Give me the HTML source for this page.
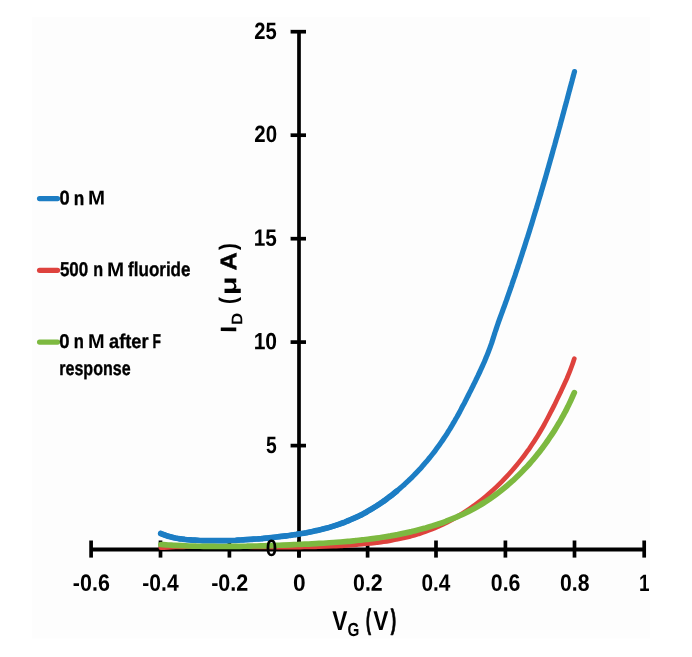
<!DOCTYPE html>
<html><head><meta charset="utf-8"><title>Chart</title>
<style>html,body{margin:0;padding:0;background:#fff}svg{display:block}</style></head>
<body>
<svg width="692" height="657" viewBox="0 0 692 657">
<rect x="0" y="0" width="692" height="657" fill="#ffffff"/>
<rect x="32" y="17" width="618.3" height="621.6" fill="#fdfdfd"/>
<defs><filter id="soft" x="0" y="0" width="692" height="657" filterUnits="userSpaceOnUse"><feGaussianBlur stdDeviation="0.55"/></filter></defs>
<g filter="url(#soft)">
<g stroke="#000" stroke-width="3.7" fill="none" stroke-linecap="butt">
<path stroke-width="4.0" d="M91.2 549.4 H644.2"/>
<path d="M299.0 30.3 V557.5"/>
<path d="M91.1 540.5 V557.6"/>
<path d="M160.5 540.5 V557.6"/>
<path d="M229.4 540.5 V557.6"/>
<path d="M299.0 540.5 V557.6"/>
<path d="M367.6 540.5 V557.6"/>
<path d="M436.0 540.5 V557.6"/>
<path d="M505.4 540.5 V557.6"/>
<path d="M574.5 540.5 V557.6"/>
<path d="M644.2 540.5 V557.6"/>
<path d="M290.6 31.7 H306.0"/>
<path d="M290.6 135.2 H306.0"/>
<path d="M290.6 238.7 H306.0"/>
<path d="M290.6 342.1 H306.0"/>
<path d="M290.6 445.6 H306.0"/>
</g>
<g fill="none" stroke-width="5.0" stroke-linecap="round" stroke-linejoin="round">
<path stroke="#1a7dc4" stroke-width="5.2" d="M160.7 533.5 C161.5 533.8 163.9 534.8 165.5 535.3 C167.1 535.9 168.7 536.4 170.3 536.8 C171.9 537.2 173.6 537.6 175.2 538.0 C176.8 538.3 178.5 538.6 180.1 538.8 C181.7 539.1 183.4 539.3 185.0 539.5 C186.7 539.7 188.3 539.8 190.0 539.9 C191.7 540.1 193.3 540.2 195.0 540.2 C196.7 540.3 198.3 540.4 200.0 540.5 C201.7 540.5 203.4 540.6 205.0 540.6 C206.7 540.6 208.4 540.7 210.1 540.7 C211.8 540.7 213.5 540.7 215.2 540.7 C216.9 540.7 218.6 540.7 220.3 540.7 C222.0 540.7 223.7 540.6 225.4 540.6 C227.1 540.6 228.8 540.5 230.5 540.5 C232.2 540.4 233.9 540.3 235.6 540.3 C237.3 540.2 239.0 540.1 240.7 540.0 C242.4 539.9 244.1 539.8 245.8 539.7 C247.5 539.6 249.2 539.5 250.9 539.4 C252.6 539.3 254.3 539.1 256.0 539.0 C257.8 538.9 259.5 538.7 261.2 538.6 C262.9 538.4 264.6 538.3 266.3 538.1 C268.0 537.9 269.7 537.8 271.4 537.6 C273.1 537.4 274.7 537.2 276.4 537.0 C278.1 536.8 279.8 536.6 281.5 536.4 C283.2 536.2 284.9 536.0 286.5 535.8 C288.2 535.6 289.9 535.3 291.6 535.1 C293.2 534.9 294.9 534.6 296.6 534.4 C298.2 534.1 299.9 533.8 301.6 533.5 C303.2 533.3 304.9 533.0 306.5 532.7 C308.2 532.3 309.8 532.0 311.5 531.7 C313.1 531.4 314.7 531.0 316.3 530.6 C318.0 530.3 319.6 529.9 321.2 529.5 C322.8 529.1 324.4 528.7 326.0 528.2 C327.7 527.8 329.2 527.4 330.8 526.9 C332.4 526.4 334.0 525.9 335.6 525.4 C337.2 524.9 338.7 524.4 340.3 523.8 C341.9 523.3 343.4 522.7 345.0 522.1 C346.5 521.5 348.1 520.9 349.6 520.2 C351.1 519.6 352.7 518.9 354.2 518.2 C355.7 517.5 357.2 516.8 358.7 516.1 C360.2 515.3 361.7 514.5 363.2 513.8 C364.7 513.0 366.2 512.2 367.6 511.3 C369.1 510.5 370.6 509.6 372.0 508.8 C373.4 507.9 374.9 507.0 376.3 506.1 C377.7 505.2 379.2 504.2 380.6 503.3 C382.0 502.3 383.4 501.4 384.8 500.4 C386.1 499.4 387.5 498.4 388.9 497.3 C390.2 496.3 391.6 495.3 392.9 494.2 C394.3 493.1 395.6 492.1 396.9 491.0 C398.3 489.9 399.6 488.7 400.9 487.6 C402.2 486.5 403.4 485.3 404.7 484.2 C406.0 483.0 407.2 481.9 408.5 480.7 C409.7 479.5 411.0 478.3 412.2 477.1 C413.4 475.9 414.6 474.6 415.8 473.4 C417.0 472.2 418.2 470.9 419.3 469.6 C420.5 468.4 421.6 467.1 422.8 465.8 C423.9 464.5 425.0 463.2 426.1 461.9 C427.3 460.6 428.3 459.3 429.4 458.0 C430.5 456.7 431.6 455.3 432.6 454.0 C433.7 452.6 434.7 451.3 435.7 449.9 C436.7 448.6 437.7 447.2 438.7 445.8 C439.7 444.5 440.7 443.1 441.6 441.7 C442.6 440.3 443.5 438.9 444.4 437.5 C445.4 436.1 446.3 434.7 447.2 433.3 C448.1 431.9 448.9 430.5 449.8 429.1 C450.7 427.6 451.5 426.2 452.4 424.8 C453.2 423.3 454.1 421.9 454.9 420.5 C455.7 419.0 456.6 417.6 457.4 416.1 C458.2 414.7 459.0 413.2 459.8 411.7 C460.6 410.3 461.3 408.8 462.1 407.3 C462.9 405.8 463.7 404.4 464.5 402.9 C465.2 401.4 466.0 399.9 466.7 398.4 C467.5 396.9 468.3 395.4 469.0 393.9 C469.8 392.4 470.5 390.9 471.3 389.4 C472.0 387.9 472.8 386.3 473.5 384.8 C474.3 383.3 475.0 381.8 475.8 380.2 C476.5 378.7 477.2 377.2 478.0 375.6 C478.7 374.1 479.4 372.6 480.2 371.0 C480.9 369.5 481.6 367.9 482.3 366.4 C483.0 364.8 483.7 363.3 484.4 361.7 C485.0 360.2 485.7 358.6 486.3 357.0 C487.0 355.5 487.6 353.9 488.2 352.3 C488.8 350.8 489.4 349.2 490.0 347.6 C490.6 346.0 491.1 344.5 491.7 342.9 C492.2 341.3 492.7 339.7 493.2 338.1 C493.7 336.5 494.2 335.0 494.7 333.4 C495.2 331.8 495.8 330.2 496.3 328.6 C496.8 327.0 497.3 325.4 497.9 323.8 C498.5 322.2 499.0 320.6 499.6 319.0 C500.2 317.4 500.8 315.8 501.4 314.2 C502.0 312.6 502.6 311.0 503.1 309.4 C503.7 307.8 504.3 306.2 504.9 304.6 C505.5 303.0 506.0 301.4 506.6 299.8 C507.2 298.1 507.7 296.5 508.3 294.9 C508.9 293.3 509.4 291.7 510.0 290.1 C510.6 288.5 511.1 286.9 511.7 285.3 C512.2 283.6 512.8 282.0 513.3 280.4 C513.9 278.8 514.4 277.2 515.0 275.6 C515.5 274.0 516.0 272.4 516.6 270.7 C517.1 269.1 517.7 267.5 518.2 265.9 C518.7 264.3 519.3 262.7 519.8 261.1 C520.3 259.5 520.8 257.9 521.4 256.2 C521.9 254.6 522.4 253.0 522.9 251.4 C523.5 249.8 524.0 248.2 524.5 246.6 C525.0 245.0 525.5 243.4 526.0 241.8 C526.5 240.2 527.0 238.6 527.6 236.9 C528.1 235.3 528.6 233.7 529.1 232.1 C529.6 230.5 530.1 228.9 530.6 227.3 C531.1 225.7 531.6 224.1 532.1 222.5 C532.6 220.9 533.0 219.3 533.5 217.7 C534.0 216.1 534.5 214.5 535.0 212.8 C535.5 211.2 536.0 209.6 536.5 208.0 C536.9 206.4 537.4 204.8 537.9 203.2 C538.4 201.6 538.9 200.0 539.3 198.4 C539.8 196.8 540.3 195.2 540.8 193.6 C541.2 192.0 541.7 190.4 542.2 188.7 C542.7 187.1 543.1 185.5 543.6 183.9 C544.1 182.3 544.5 180.7 545.0 179.1 C545.5 177.5 545.9 175.9 546.4 174.3 C546.8 172.6 547.3 171.0 547.8 169.4 C548.2 167.8 548.7 166.2 549.1 164.6 C549.6 163.0 550.1 161.4 550.5 159.7 C551.0 158.1 551.4 156.5 551.9 154.9 C552.3 153.3 552.8 151.7 553.2 150.0 C553.7 148.4 554.1 146.8 554.6 145.2 C555.0 143.6 555.5 142.0 555.9 140.3 C556.4 138.7 556.8 137.1 557.3 135.5 C557.7 133.8 558.2 132.2 558.6 130.6 C559.1 129.0 559.5 127.3 560.0 125.7 C560.4 124.1 560.8 122.5 561.3 120.8 C561.7 119.2 562.2 117.6 562.6 115.9 C563.1 114.3 563.5 112.7 563.9 111.1 C564.4 109.4 564.8 107.8 565.3 106.1 C565.7 104.5 566.1 102.9 566.6 101.2 C567.0 99.6 567.5 98.0 567.9 96.3 C568.4 94.7 568.8 93.0 569.2 91.4 C569.7 89.7 570.1 88.1 570.5 86.5 C571.0 84.8 571.4 83.2 571.9 81.5 C572.3 79.9 572.7 78.2 573.2 76.6 C573.6 74.9 574.3 72.4 574.5 71.6"/>
<path stroke="#1a7dc4" stroke-width="5.7" d="M160.7 533.5 C161.5 533.8 163.9 534.8 165.5 535.3 C167.1 535.9 168.7 536.4 170.3 536.8 C171.9 537.2 173.6 537.6 175.2 538.0 C176.8 538.3 178.5 538.6 180.1 538.8 C181.7 539.1 183.4 539.3 185.0 539.5 C186.7 539.7 188.3 539.8 190.0 539.9 C191.7 540.1 193.3 540.2 195.0 540.2 C196.7 540.3 198.3 540.4 200.0 540.5 C201.7 540.5 203.4 540.6 205.0 540.6 C206.7 540.6 208.4 540.7 210.1 540.7 C211.8 540.7 213.5 540.7 215.2 540.7 C216.9 540.7 218.6 540.7 220.3 540.7 C222.0 540.7 223.7 540.6 225.4 540.6 C227.1 540.6 228.8 540.5 230.5 540.5 C232.2 540.4 233.9 540.3 235.6 540.3 C237.3 540.2 239.0 540.1 240.7 540.0 C242.4 539.9 244.1 539.8 245.8 539.7 C247.5 539.6 249.2 539.5 250.9 539.4 C252.6 539.3 254.3 539.1 256.0 539.0 C257.8 538.9 259.5 538.7 261.2 538.6 C262.9 538.4 264.6 538.3 266.3 538.1 C268.0 537.9 269.7 537.8 271.4 537.6 C273.1 537.4 274.7 537.2 276.4 537.0 C278.1 536.8 279.8 536.6 281.5 536.4 C283.2 536.2 284.9 536.0 286.5 535.8 C288.2 535.6 289.9 535.3 291.6 535.1 C293.2 534.9 294.9 534.6 296.6 534.4 C298.2 534.1 299.9 533.8 301.6 533.5 C303.2 533.3 304.9 533.0 306.5 532.7 C308.2 532.3 309.8 532.0 311.5 531.7 C313.1 531.4 314.7 531.0 316.3 530.6 C318.0 530.3 319.6 529.9 321.2 529.5 C322.8 529.1 324.4 528.7 326.0 528.2 C327.7 527.8 329.2 527.4 330.8 526.9 C332.4 526.4 334.0 525.9 335.6 525.4 C337.2 524.9 338.7 524.4 340.3 523.8 C341.9 523.3 343.4 522.7 345.0 522.1 C346.5 521.5 348.1 520.9 349.6 520.2 C351.1 519.6 352.7 518.9 354.2 518.2 C355.7 517.5 357.2 516.8 358.7 516.1 C360.2 515.3 361.7 514.5 363.2 513.8 C364.7 513.0 366.2 512.2 367.6 511.3 C369.1 510.5 370.6 509.6 372.0 508.8 C373.4 507.9 374.9 507.0 376.3 506.1 C377.7 505.2 379.2 504.2 380.6 503.3 C382.0 502.3 383.4 501.4 384.8 500.4 C386.1 499.4 387.5 498.4 388.9 497.3 C390.2 496.3 391.6 495.3 392.9 494.2 C394.3 493.1 396.3 491.5 396.9 491.0"/>
<path stroke="#de423e" stroke-width="4.7" d="M160.8 547.7 C162.0 547.6 165.7 547.4 168.1 547.3 C170.6 547.2 173.0 547.1 175.5 547.0 C177.9 546.9 180.3 546.9 182.7 546.8 C185.1 546.7 187.5 546.7 189.9 546.6 C192.3 546.6 194.7 546.5 197.1 546.5 C199.5 546.5 201.9 546.5 204.3 546.4 C206.7 546.4 209.0 546.4 211.4 546.4 C213.8 546.4 216.2 546.4 218.5 546.4 C220.9 546.5 223.3 546.5 225.6 546.5 C228.0 546.5 230.3 546.5 232.7 546.6 C235.1 546.6 237.4 546.6 239.8 546.6 C242.1 546.7 244.5 546.7 246.9 546.7 C249.2 546.8 251.6 546.8 253.9 546.8 C256.3 546.9 258.7 546.9 261.0 546.9 C263.4 546.9 265.8 547.0 268.1 547.0 C270.5 547.0 272.9 547.0 275.2 547.1 C277.6 547.1 280.0 547.1 282.4 547.1 C284.8 547.1 287.2 547.1 289.5 547.1 C291.9 547.1 294.3 547.1 296.7 547.1 C299.1 547.1 301.6 547.0 304.0 547.0 C306.4 547.0 308.8 546.9 311.2 546.9 C313.6 546.8 316.1 546.8 318.5 546.7 C320.9 546.6 323.3 546.5 325.8 546.5 C328.2 546.4 330.6 546.3 333.1 546.2 C335.5 546.0 337.9 545.9 340.3 545.8 C342.8 545.6 345.2 545.5 347.6 545.3 C350.0 545.2 352.5 545.0 354.9 544.8 C357.3 544.6 359.7 544.4 362.1 544.2 C364.5 544.0 366.9 543.8 369.3 543.5 C371.7 543.2 374.1 543.0 376.5 542.7 C378.8 542.4 381.2 542.1 383.6 541.7 C385.9 541.4 388.3 541.0 390.6 540.6 C393.0 540.2 395.3 539.8 397.6 539.3 C400.0 538.9 402.3 538.4 404.6 537.8 C406.9 537.3 409.1 536.7 411.4 536.1 C413.7 535.5 416.0 534.8 418.2 534.1 C420.4 533.4 422.7 532.7 424.9 531.9 C427.1 531.1 429.3 530.3 431.5 529.4 C433.7 528.5 435.8 527.6 438.0 526.7 C440.1 525.7 442.3 524.7 444.4 523.6 C446.5 522.6 448.6 521.5 450.7 520.4 C452.7 519.3 454.8 518.1 456.8 516.9 C458.9 515.7 460.9 514.5 462.9 513.2 C464.9 511.9 466.9 510.6 468.9 509.3 C470.8 507.9 472.8 506.5 474.7 505.1 C476.6 503.7 478.5 502.3 480.4 500.8 C482.3 499.3 484.1 497.8 486.0 496.2 C487.8 494.7 489.6 493.1 491.4 491.5 C493.2 489.9 494.9 488.3 496.7 486.6 C498.4 485.0 500.1 483.3 501.8 481.6 C503.5 479.9 505.2 478.1 506.8 476.4 C508.5 474.6 510.1 472.8 511.7 471.0 C513.3 469.2 514.8 467.4 516.4 465.5 C517.9 463.7 519.4 461.8 520.9 459.9 C522.4 458.0 523.9 456.1 525.3 454.1 C526.7 452.2 528.1 450.2 529.5 448.3 C530.9 446.3 532.2 444.3 533.5 442.3 C534.9 440.3 536.1 438.2 537.4 436.2 C538.7 434.2 539.9 432.1 541.1 430.0 C542.3 428.0 543.5 425.9 544.6 423.8 C545.8 421.7 546.9 419.6 548.0 417.5 C549.2 415.3 550.3 413.2 551.3 411.1 C552.4 408.9 553.5 406.8 554.6 404.6 C555.6 402.5 556.7 400.3 557.7 398.1 C558.8 396.0 559.8 393.8 560.9 391.6 C561.9 389.4 562.9 387.3 563.9 385.1 C564.9 382.9 565.9 380.7 566.9 378.5 C567.8 376.3 568.7 374.1 569.6 371.9 C570.5 369.7 571.3 367.5 572.1 365.3 C572.9 363.1 573.9 359.8 574.3 358.7"/>
<path stroke="#7db941" stroke-width="5.7" d="M160.8 544.5 C162.0 544.6 165.5 544.8 167.9 545.0 C170.2 545.1 172.6 545.3 175.0 545.4 C177.3 545.5 179.7 545.6 182.1 545.7 C184.4 545.8 186.8 545.9 189.2 546.0 C191.6 546.1 194.0 546.1 196.3 546.2 C198.7 546.2 201.1 546.3 203.5 546.3 C205.9 546.4 208.3 546.4 210.7 546.4 C213.1 546.4 215.5 546.5 217.9 546.5 C220.3 546.5 222.7 546.5 225.1 546.5 C227.5 546.4 229.9 546.4 232.3 546.4 C234.7 546.4 237.1 546.4 239.5 546.3 C241.9 546.3 244.3 546.2 246.7 546.2 C249.1 546.1 251.5 546.1 254.0 546.0 C256.4 546.0 258.8 545.9 261.2 545.8 C263.6 545.8 266.0 545.7 268.4 545.6 C270.8 545.5 273.3 545.4 275.7 545.4 C278.1 545.3 280.5 545.2 282.9 545.1 C285.3 545.0 287.7 544.9 290.2 544.8 C292.6 544.7 295.0 544.6 297.4 544.5 C299.8 544.4 302.2 544.3 304.6 544.2 C307.1 544.1 309.5 544.0 311.9 543.8 C314.3 543.7 316.7 543.6 319.1 543.4 C321.5 543.3 323.9 543.2 326.3 543.0 C328.7 542.9 331.1 542.7 333.5 542.5 C335.9 542.4 338.3 542.2 340.7 542.0 C343.1 541.8 345.5 541.6 347.9 541.4 C350.3 541.2 352.7 540.9 355.1 540.7 C357.4 540.4 359.8 540.2 362.2 539.9 C364.6 539.6 367.0 539.4 369.3 539.1 C371.7 538.8 374.1 538.4 376.5 538.1 C378.8 537.8 381.2 537.4 383.6 537.0 C385.9 536.7 388.3 536.3 390.6 535.9 C393.0 535.4 395.3 535.0 397.7 534.6 C400.0 534.1 402.4 533.6 404.7 533.1 C407.1 532.6 409.4 532.1 411.7 531.6 C414.0 531.0 416.4 530.4 418.7 529.8 C421.0 529.3 423.3 528.6 425.6 528.0 C427.9 527.3 430.2 526.7 432.5 525.9 C434.7 525.2 437.0 524.5 439.2 523.7 C441.5 523.0 443.7 522.2 446.0 521.3 C448.2 520.5 450.4 519.6 452.6 518.7 C454.8 517.8 457.0 516.9 459.1 515.9 C461.3 515.0 463.5 514.0 465.6 512.9 C467.7 511.9 469.8 510.8 471.9 509.7 C474.0 508.6 476.1 507.4 478.2 506.2 C480.2 505.0 482.3 503.8 484.3 502.5 C486.3 501.3 488.3 499.9 490.2 498.6 C492.2 497.2 494.2 495.8 496.1 494.4 C498.0 493.0 499.9 491.5 501.8 490.0 C503.7 488.5 505.5 487.0 507.3 485.5 C509.2 483.9 511.0 482.3 512.8 480.7 C514.5 479.0 516.3 477.4 518.0 475.7 C519.8 474.0 521.5 472.3 523.1 470.6 C524.8 468.8 526.5 467.1 528.1 465.3 C529.7 463.5 531.3 461.6 532.9 459.8 C534.5 458.0 536.0 456.1 537.5 454.2 C539.1 452.3 540.5 450.4 542.0 448.5 C543.5 446.5 544.9 444.6 546.3 442.6 C547.7 440.6 549.1 438.7 550.4 436.6 C551.8 434.6 553.1 432.6 554.4 430.6 C555.7 428.5 556.9 426.5 558.1 424.4 C559.4 422.4 560.6 420.3 561.7 418.2 C562.9 416.1 564.0 414.0 565.2 411.9 C566.3 409.8 567.3 407.6 568.4 405.5 C569.4 403.4 570.5 401.2 571.4 399.1 C572.4 396.9 573.8 393.7 574.3 392.6"/>
</g>
<g fill="none" stroke-width="5.3" stroke-linecap="round">
<path stroke="#1a7dc4" d="M39.6 198.6 H57.5"/>
<path stroke="#de423e" d="M39.6 270.4 H57.5"/>
<path stroke="#7db941" d="M39.6 342.1 H57.5"/>
</g>
<g font-family="'Liberation Sans', sans-serif" font-weight="bold" fill="#000" style="font-kerning:none">
<text transform="translate(72.86 590.70) rotate(0.03) scale(0.2148 0.2350)" font-size="100">-0.6</text>
<text transform="translate(142.28 590.70) rotate(0.03) scale(0.2109 0.2350)" font-size="100">-0.4</text>
<text transform="translate(211.16 590.70) rotate(0.03) scale(0.2153 0.2350)" font-size="100">-0.2</text>
<text transform="translate(293.00 590.70) rotate(0.03) scale(0.2271 0.2350)" font-size="100">0</text>
<text transform="translate(353.05 590.70) rotate(0.03) scale(0.2137 0.2350)" font-size="100">0.2</text>
<text transform="translate(421.48 590.70) rotate(0.03) scale(0.2081 0.2350)" font-size="100">0.4</text>
<text transform="translate(490.86 590.70) rotate(0.03) scale(0.2130 0.2350)" font-size="100">0.6</text>
<text transform="translate(559.96 590.70) rotate(0.03) scale(0.2121 0.2350)" font-size="100">0.8</text>
<text transform="translate(638.91 590.70) rotate(0.03) scale(0.1891 0.2350)" font-size="100">1</text>
<text transform="translate(254.30 38.80) rotate(0.03) scale(0.2019 0.2350)" font-size="100">25</text>
<text transform="translate(254.29 142.30) rotate(0.03) scale(0.2045 0.2350)" font-size="100">20</text>
<text transform="translate(253.69 245.80) rotate(0.03) scale(0.2075 0.2350)" font-size="100">15</text>
<text transform="translate(253.68 349.20) rotate(0.03) scale(0.2103 0.2350)" font-size="100">10</text>
<text transform="translate(266.01 452.70) rotate(0.03) scale(0.1929 0.2350)" font-size="100">5</text>
<text transform="translate(265.69 555.90) rotate(0.03) scale(0.2061 0.2350)" font-size="100">0</text>
<text transform="translate(59.38 204.55) rotate(0.03) scale(0.1829 0.1990)" font-size="100" stroke="#000" stroke-width="0.35" vector-effect="non-scaling-stroke" stroke-linejoin="round">0</text>
<text transform="translate(73.67 204.55) rotate(0.03) scale(0.1719 0.1990)" font-size="100" stroke="#000" stroke-width="0.35" vector-effect="non-scaling-stroke" stroke-linejoin="round">n</text>
<text transform="translate(88.03 204.55) rotate(0.03) scale(0.2045 0.1990)" font-size="100">M</text>
<text transform="translate(59.88 276.20) rotate(0.03) scale(0.1697 0.1990)" font-size="100" stroke="#000" stroke-width="0.35" vector-effect="non-scaling-stroke" stroke-linejoin="round">500</text>
<text transform="translate(93.24 276.20) rotate(0.03) scale(0.1615 0.1990)" font-size="100" stroke="#000" stroke-width="0.35" vector-effect="non-scaling-stroke" stroke-linejoin="round">n</text>
<text transform="translate(107.12 276.20) rotate(0.03) scale(0.2059 0.1990)" font-size="100">M</text>
<text transform="translate(128.11 276.20) rotate(0.03) scale(0.1701 0.1990)" font-size="100" stroke="#000" stroke-width="0.35" vector-effect="non-scaling-stroke" stroke-linejoin="round">fluoride</text>
<text transform="translate(59.37 347.90) rotate(0.03) scale(0.1850 0.1990)" font-size="100" stroke="#000" stroke-width="0.35" vector-effect="non-scaling-stroke" stroke-linejoin="round">0</text>
<text transform="translate(73.81 347.90) rotate(0.03) scale(0.1657 0.1990)" font-size="100" stroke="#000" stroke-width="0.35" vector-effect="non-scaling-stroke" stroke-linejoin="round">n</text>
<text transform="translate(88.06 347.90) rotate(0.03) scale(0.2002 0.1990)" font-size="100">M</text>
<text transform="translate(109.07 347.90) rotate(0.03) scale(0.1818 0.1990)" font-size="100" stroke="#000" stroke-width="0.35" vector-effect="non-scaling-stroke" stroke-linejoin="round">after</text>
<text transform="translate(152.38 347.90) rotate(0.03) scale(0.1380 0.1990)" font-size="100" stroke="#000" stroke-width="0.35" vector-effect="non-scaling-stroke" stroke-linejoin="round">F</text>
<text transform="translate(59.24 374.50) rotate(0.03) scale(0.1606 0.1990)" font-size="100" stroke="#000" stroke-width="0.35" vector-effect="non-scaling-stroke" stroke-linejoin="round">response</text>
<text transform="translate(332.25 629.50) rotate(0.03) scale(0.2265 0.2740)" font-size="100">V</text>
<text transform="translate(347.57 636.40) rotate(0.03) scale(0.1526 0.1900)" font-size="100">G</text>
<text transform="translate(366.06 628.50) rotate(0.03) scale(0.1488 0.2790)" font-size="100" stroke="#000" stroke-width="0.80" vector-effect="non-scaling-stroke" stroke-linejoin="round">(</text>
<text transform="translate(373.15 629.50) rotate(0.03) scale(0.2265 0.2740)" font-size="100">V</text>
<text transform="translate(390.78 628.50) rotate(0.03) scale(0.1594 0.2790)" font-size="100" stroke="#000" stroke-width="0.80" vector-effect="non-scaling-stroke" stroke-linejoin="round">)</text>
<text transform="translate(236.20 331.60) rotate(-89.97) translate(-1.13 0) scale(0.2430 0.2250)" font-size="100">I</text>
<text transform="translate(242.30 331.60) rotate(-89.97) translate(6.57 0) scale(0.1696 0.1540)" font-size="100">D</text>
<text transform="translate(235.80 331.60) rotate(-89.97) translate(27.66 0) scale(0.2091 0.2400)" font-size="100">(</text>
<text transform="translate(236.20 331.60) rotate(-89.97) translate(36.44 0) scale(0.3073 0.2220)" font-size="100">μ</text>
<text transform="translate(236.20 331.60) rotate(-89.97) translate(61.07 0) scale(0.2534 0.2250)" font-size="100" stroke="#000" stroke-width="0.50" vector-effect="non-scaling-stroke" stroke-linejoin="round">A</text>
<text transform="translate(235.80 331.60) rotate(-89.97) translate(81.68 0) scale(0.2055 0.2400)" font-size="100">)</text>
</g>
</g>
</svg>
</body></html>
